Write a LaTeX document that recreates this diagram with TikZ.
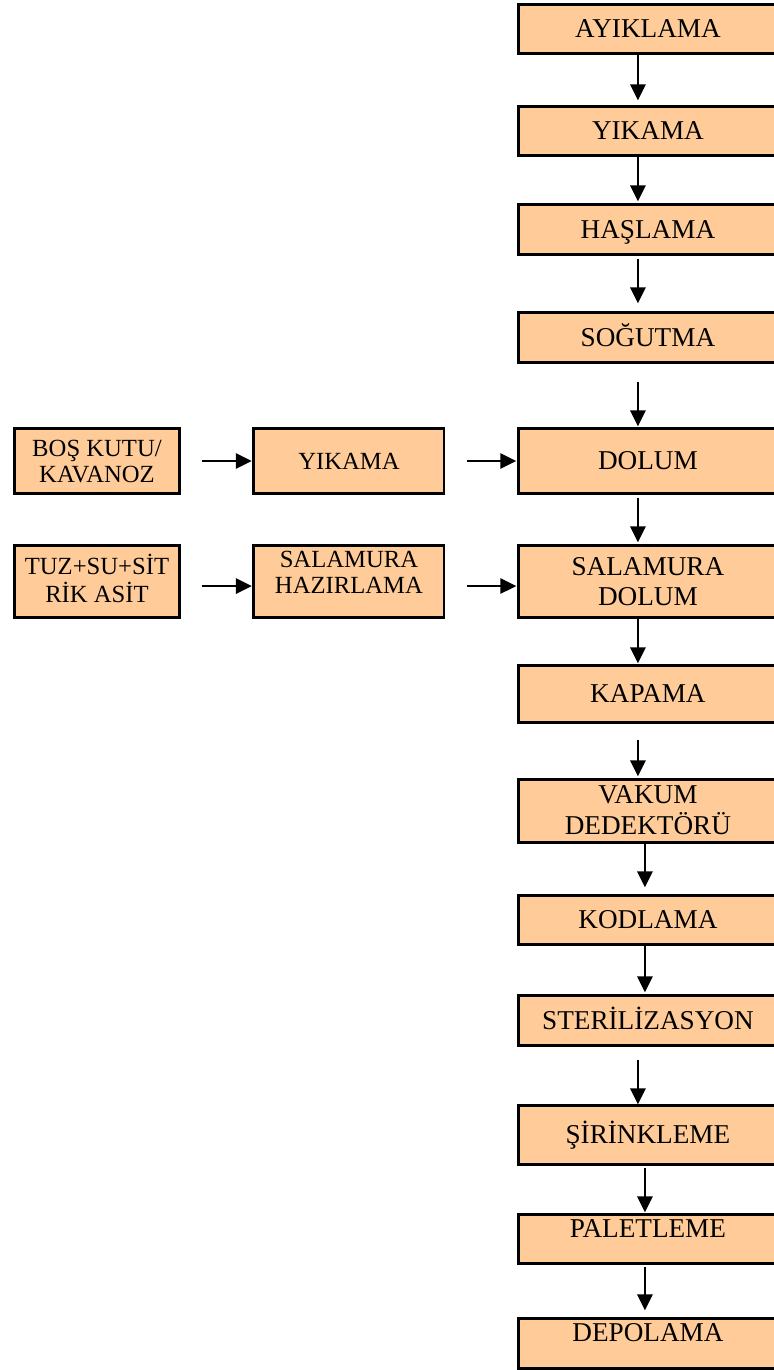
\documentclass[tikz,border=0pt]{standalone}
\usepackage{fontspec}
\setmainfont{Liberation Serif}
\usetikzlibrary{matrix,arrows.meta}
\definecolor{peach}{HTML}{FFCC99}
\newcommand{\twolines}[2]{\begin{tabular}[b]{@{}c@{}}#1\\#2\end{tabular}}
\tikzset{
  stage/.style={draw, line width=2pt, fill=peach, inner sep=0pt, anchor=center,
    minimum height=37pt, text height=13.4pt, text depth=0pt},
  twoline/.style={text height=35.9pt},
  twoside/.style={text height=32pt},
  lifted/.style={text depth=15.8pt},
  flow/.style={-{Triangle[length=12pt,width=11.5pt]}, line width=1.5pt}
}

\begin{document}
\begin{tikzpicture}[x=1pt,y=1pt]
      \useasboundingbox (0,0) rectangle (580.5,-1027.5);
      \matrix[matrix of nodes, ampersand replacement=\&, column sep=53.6pt, row sep=0pt,
        inner sep=0pt, outer sep=0pt, anchor=north west, nodes={stage},
        column 1/.style={nodes={minimum width=124pt, font=\fontsize{18.5}{19.5}\selectfont}},
        column 2/.style={nodes={minimum width=142.75pt, font=\fontsize{18.5}{19.5}\selectfont}},
        column 3/.style={nodes={minimum width=194.5pt, font=\fontsize{20.4}{22.5}\selectfont}},
        row 3/.style={nodes={minimum height=37.75pt}},
        row 4/.style={nodes={minimum height=37.75pt}},
        row 5/.style={nodes={minimum height=49pt}},
        row 6/.style={nodes={minimum height=54.25pt}},
        row 7/.style={nodes={minimum height=43pt}},
        row 8/.style={nodes={minimum height=47.5pt}},
        row 10/.style={nodes={minimum height=37.75pt}},
        row 11/.style={nodes={minimum height=44.5pt}},
        row 13/.style={nodes={minimum height=37.75pt}}] (chart) at (9.75,-2.25) {
        \& \& |(ayik)| AYIKLAMA \\[37.5pt]
        \& \& |(yika)| YIKAMA \\[34.5pt]
        \& \& |(hasl)| HAŞLAMA \\[41.25pt]
        \& \& |(sogu)| SOĞUTMA \\[47.25pt]
        |[twoside](bos)| \twolines{BOŞ KUTU/}{KAVANOZ} \& |(yikb)| YIKAMA \& |(dolu)| DOLUM \\[36.75pt]
        |[twoside](tuz)| \twolines{TUZ+SU+SİT}{RİK ASİT} \& |[twoside,text depth=14.2pt](salhaz)| \twolines{SALAMURA}{HAZIRLAMA} \& |[twoline](saldol)| \twolines{SALAMURA}{DOLUM} \\[33.75pt]
        \& \& |(kapa)| KAPAMA \\[40.5pt]
        \& \& |[twoline](vaku)| \twolines{VAKUM}{DEDEKTÖRÜ} \\[37.5pt]
        \& \& |(kodl)| KODLAMA \\[36pt]
        \& \& |(ster)| STERİLİZASYON \\[42.75pt]
        \& \& |(siri)| ŞİRİNKLEME \\[35.25pt]
        \& \& |[lifted](pale)| PALETLEME \\[39pt]
        \& \& |[lifted](depo)| DEPOLAMA \\
      };
      % main line
      \path[flow] ([xshift=-7.5pt]ayik.south) edge[shorten >=4.5pt] ([xshift=-7.5pt]yika.north);
      \path[flow] ([xshift=-7.5pt]yika.south) edge[shorten <=0.75pt, shorten >=2.25pt] ([xshift=-7.5pt]hasl.north);
      \path[flow] ([xshift=-7.5pt]hasl.south) edge[shorten <=3pt, shorten >=6.75pt] ([xshift=-7.5pt]sogu.north);
      \path[flow] ([xshift=-7.5pt]sogu.south) edge[shorten <=14.25pt, shorten >=1.5pt] ([xshift=-7.5pt]dolu.north);
      \path[flow] ([xshift=-7.5pt]dolu.south) edge[shorten <=3pt, shorten >=2.25pt] ([xshift=-7.5pt]saldol.north);
      \path[flow] ([xshift=-7.5pt]saldol.south) edge[shorten >=1.5pt] ([xshift=-7.5pt]kapa.north);
      \path[flow] ([xshift=-7.5pt]kapa.south) edge[shorten <=12.75pt, shorten >=2.25pt] ([xshift=-7.5pt]vaku.north);
      \path[flow] ([xshift=-2.25pt]vaku.south) edge[shorten >=6pt] ([xshift=-2.25pt]kodl.north);
      \path[flow] ([xshift=-2.25pt]kodl.south) edge[shorten >=2.25pt] ([xshift=-2.25pt]ster.north);
      \path[flow] ([xshift=-7.5pt]ster.south) edge[shorten <=10.5pt, shorten >=0.75pt] ([xshift=-7.5pt]siri.north);
      \path[flow] ([xshift=-2.25pt]siri.south) edge[shorten <=2.25pt, shorten >=1.5pt] ([xshift=-2.25pt]pale.north);
      \path[flow] ([xshift=-2.25pt]pale.south) edge[shorten <=2.25pt, shorten >=6pt] ([xshift=-2.25pt]depo.north);
      % side inputs
      \path[flow] (bos.east) edge[shorten <=16.5pt, shorten >=1.5pt] (yikb.west);
      \path[flow] (yikb.east) edge[shorten <=17.25pt, shorten >=1.5pt] (dolu.west);
      \path[flow] ([yshift=-3.4pt]tuz.east) edge[shorten <=16.5pt, shorten >=1.5pt] ([yshift=-3.4pt]salhaz.west);
      \path[flow] ([yshift=-3.4pt]salhaz.east) edge[shorten <=17.25pt, shorten >=1.5pt] ([yshift=-3.4pt]saldol.west);
    \end{tikzpicture}
\end{document}
